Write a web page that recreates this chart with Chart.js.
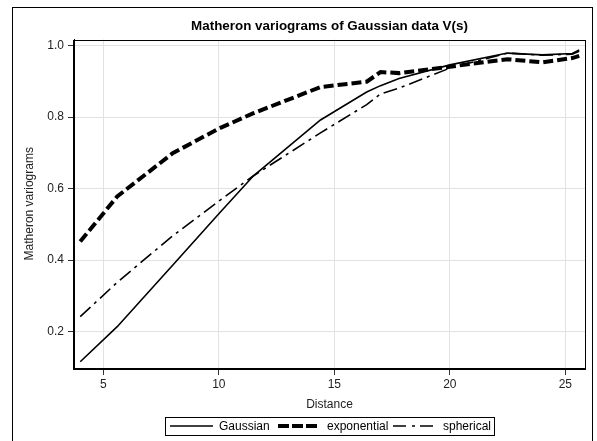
<!DOCTYPE html>
<html>
<head>
<meta charset="utf-8">
<script src="https://cdn.jsdelivr.net/npm/chart.js@4/dist/chart.umd.min.js"></script>
<style>
  html, body { margin: 0; padding: 0; background: #fff; }
  #wrap { width: 597px; height: 441px; }
</style>
</head>
<body>
<div id="wrap"><canvas id="c" width="597" height="441"></canvas></div>
<script>
// ---- data ----
const distances   = [4.0, 5.6, 8.0, 10.0, 11.5, 14.4, 16.4, 17.0, 17.8, 20.0, 22.5, 24.0, 25.3, 25.6];
const gaussian    = [0.116, 0.214, 0.386, 0.530, 0.636, 0.792, 0.870, 0.888, 0.908, 0.946, 0.979, 0.974, 0.978, 0.988];
const exponential = [0.452, 0.578, 0.699, 0.768, 0.811, 0.884, 0.899, 0.926, 0.923, 0.941, 0.962, 0.953, 0.965, 0.971];
const spherical   = [0.242, 0.338, 0.468, 0.565, 0.636, 0.756, 0.835, 0.865, 0.881, 0.937, 0.979, 0.973, 0.976, 0.984];
const seriesNames = ['Gaussian', 'exponential', 'spherical'];
const xTicks = [5, 10, 15, 20, 25];
const yTicks = [0.2, 0.4, 0.6, 0.8, 1.0];
const titleText = 'Matheron variograms of Gaussian data V(s)';
const xTitle = 'Distance';
const yTitle = 'Matheron variograms';

const FONT = "'Liberation Sans', Arial, sans-serif";
const toPts = (ys) => distances.map((x, i) => ({ x: x, y: ys[i] }));

const styles = [
  { borderWidth: 1.6, borderDash: [] },
  { borderWidth: 4, borderDash: [10, 4] },
  { borderWidth: 1.6, borderDash: [14, 5, 3, 5] }
];

const frame = {
  id: 'frame',
  afterDraw(chart) {
    const ctx = chart.ctx;
    const a = chart.chartArea;
    ctx.save();
    ctx.strokeStyle = '#000';
    ctx.lineWidth = 1;
    ctx.setLineDash([]);
    // outer frame
    ctx.strokeRect(12.5, 7.5, 580, 500);
    // plot border
    ctx.strokeRect(Math.round(a.left) - 0.5, Math.round(a.top) + 0.5, Math.round(a.right - a.left) + 1, Math.round(a.bottom - a.top));
    // title, centred over the plot area
    ctx.font = 'bold 13.4px ' + FONT;
    ctx.textAlign = 'center';
    ctx.textBaseline = 'middle';
    ctx.fillStyle = '#000';
    ctx.fillText(titleText, (a.left + a.right) / 2, 26);
    // legend
    ctx.textAlign = 'left';
    const lx = 165.5, ly = 417.5, lw = 329, lh = 18, cy = 426;
    ctx.strokeRect(lx, ly, lw, lh);
    const items = [
      { x0: 170, x1: 213, tx: 219 },
      { x0: 278, x1: 318, tx: 327 },
      { x0: 393, x1: 435, tx: 443 }
    ];
    ctx.font = '12px ' + FONT;
    items.forEach((it, i) => {
      ctx.beginPath();
      ctx.lineWidth = styles[i].borderWidth;
      ctx.setLineDash(i === 2 ? [13, 6, 3, 5] : (i === 1 ? [11, 3] : []));
      ctx.moveTo(it.x0, cy);
      ctx.lineTo(it.x1, cy);
      ctx.stroke();
      ctx.fillText(seriesNames[i], it.tx, cy + 0.5);
    });
    ctx.restore();
  }
};

new Chart(document.getElementById('c'), {
  type: 'line',
  data: {
    datasets: [gaussian, exponential, spherical].map((ys, i) => ({
      label: seriesNames[i],
      data: toPts(ys),
      borderColor: '#000',
      backgroundColor: '#000',
      borderWidth: styles[i].borderWidth,
      borderDash: styles[i].borderDash,
      pointRadius: 0,
      tension: 0,
      fill: false
    }))
  },
  options: {
    responsive: false,
    animation: false,
    events: [],
    layout: { padding: { left: 12, right: 12, top: 39.5, bottom: 23 } },
    plugins: {
      legend: { display: false },
      tooltip: { enabled: false },
      title: { display: false }
    },
    scales: {
      x: {
        type: 'linear',
        min: 3.73,
        max: 25.85,
        afterFit(s) { s.height = 50; },
        afterBuildTicks(s) { s.ticks = xTicks.map(v => ({ value: v })); },
        grid: { color: '#e2e2e2', lineWidth: 1, drawTicks: true, tickLength: 7, tickColor: '#333' },
        border: { display: true, color: '#000', width: 1 },
        ticks: { color: '#222', font: { family: FONT, size: 12 }, padding: 2, maxRotation: 0, autoSkip: false },
        title: { display: true, text: xTitle, color: '#222', font: { family: FONT, size: 12 }, padding: { top: 0, bottom: 5.8 } }
      },
      y: {
        type: 'linear',
        min: 0.0985,
        max: 1.017,
        afterFit(s) { s.width = 62; },
        afterBuildTicks(s) { s.ticks = yTicks.map(v => ({ value: v })); },
        grid: { color: '#e2e2e2', lineWidth: 1, drawTicks: true, tickLength: 6, tickColor: '#333' },
        border: { display: true, color: '#000', width: 1 },
        ticks: { color: '#222', font: { family: FONT, size: 12 }, padding: 4, callback: v => Number(v).toFixed(1) },
        title: { display: true, text: yTitle, color: '#222', font: { family: FONT, size: 12 }, padding: { top: 10, bottom: 0 } }
      }
    }
  },
  plugins: [frame]
});
</script>
</body>
</html>
